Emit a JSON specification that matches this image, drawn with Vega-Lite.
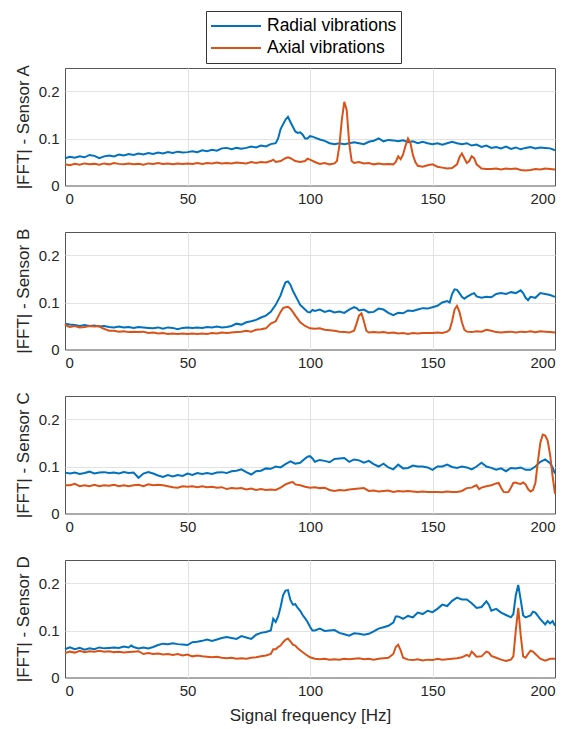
{
"$schema":"https://vega.github.io/schema/vega-lite/v6.json",
"background":"white",
"padding":{"left":13,"top":10,"right":5,"bottom":2},
"spacing":46,
"bounds":"flush",
"config":{
"font":"Liberation Sans",
"view":{"stroke":"#555555","strokeWidth":1},
"axis":{"labelFontSize":15,"titleFontSize":17,"labelColor":"#262626","titleColor":"#262626","titleFontWeight":"normal","gridColor":"#e2e2e2","domain":false,"ticks":false,"labelPadding":6},
"axisX":{"titlePadding":9},
"axisY":{"titlePadding":6},
"legend":{"orient":"none","legendX":141,"legendY":-57,"direction":"vertical","title":null,"symbolType":"stroke","symbolStrokeWidth":2,"symbolSize":2500,"clipHeight":22,"rowPadding":0,"labelFontSize":17.5,"labelColor":"#000","strokeColor":"#333","fillColor":"white","padding":4,"labelOffset":5}
},
"datasets":{
"A":[
{"t":"Radial","f":0,"v":0.058},{"t":"Radial","f":2,"v":0.061},{"t":"Radial","f":4,"v":0.059},{"t":"Radial","f":6,"v":0.062},{"t":"Radial","f":8,"v":0.06},{"t":"Radial","f":10,"v":0.065},{"t":"Radial","f":12,"v":0.063},{"t":"Radial","f":14,"v":0.058},{"t":"Radial","f":16,"v":0.062},{"t":"Radial","f":18,"v":0.064},{"t":"Radial","f":20,"v":0.062},{"t":"Radial","f":22,"v":0.066},{"t":"Radial","f":24,"v":0.064},{"t":"Radial","f":26,"v":0.067},{"t":"Radial","f":28,"v":0.065},{"t":"Radial","f":30,"v":0.068},{"t":"Radial","f":32,"v":0.066},{"t":"Radial","f":34,"v":0.069},{"t":"Radial","f":36,"v":0.067},{"t":"Radial","f":38,"v":0.07},{"t":"Radial","f":40,"v":0.068},{"t":"Radial","f":42,"v":0.071},{"t":"Radial","f":44,"v":0.069},{"t":"Radial","f":46,"v":0.072},{"t":"Radial","f":48,"v":0.07},{"t":"Radial","f":50,"v":0.071},{"t":"Radial","f":52,"v":0.073},{"t":"Radial","f":54,"v":0.071},{"t":"Radial","f":56,"v":0.075},{"t":"Radial","f":58,"v":0.073},{"t":"Radial","f":60,"v":0.076},{"t":"Radial","f":62,"v":0.074},{"t":"Radial","f":64,"v":0.079},{"t":"Radial","f":66,"v":0.08},{"t":"Radial","f":68,"v":0.077},{"t":"Radial","f":70,"v":0.08},{"t":"Radial","f":72,"v":0.078},{"t":"Radial","f":74,"v":0.08},{"t":"Radial","f":76,"v":0.083},{"t":"Radial","f":78,"v":0.081},{"t":"Radial","f":80,"v":0.085},{"t":"Radial","f":82,"v":0.083},{"t":"Radial","f":84,"v":0.088},{"t":"Radial","f":86,"v":0.09},{"t":"Radial","f":87,"v":0.1},{"t":"Radial","f":88,"v":0.12},{"t":"Radial","f":89,"v":0.13},{"t":"Radial","f":90,"v":0.14},{"t":"Radial","f":91,"v":0.146},{"t":"Radial","f":92,"v":0.135},{"t":"Radial","f":93,"v":0.125},{"t":"Radial","f":94,"v":0.115},{"t":"Radial","f":95,"v":0.112},{"t":"Radial","f":96,"v":0.113},{"t":"Radial","f":97,"v":0.108},{"t":"Radial","f":98,"v":0.1},{"t":"Radial","f":99,"v":0.1},{"t":"Radial","f":100,"v":0.105},{"t":"Radial","f":101,"v":0.104},{"t":"Radial","f":102,"v":0.102},{"t":"Radial","f":104,"v":0.098},{"t":"Radial","f":106,"v":0.095},{"t":"Radial","f":108,"v":0.09},{"t":"Radial","f":110,"v":0.088},{"t":"Radial","f":112,"v":0.09},{"t":"Radial","f":114,"v":0.088},{"t":"Radial","f":116,"v":0.09},{"t":"Radial","f":118,"v":0.092},{"t":"Radial","f":120,"v":0.09},{"t":"Radial","f":122,"v":0.088},{"t":"Radial","f":124,"v":0.093},{"t":"Radial","f":126,"v":0.095},{"t":"Radial","f":128,"v":0.1},{"t":"Radial","f":130,"v":0.094},{"t":"Radial","f":132,"v":0.097},{"t":"Radial","f":134,"v":0.096},{"t":"Radial","f":136,"v":0.094},{"t":"Radial","f":138,"v":0.096},{"t":"Radial","f":140,"v":0.092},{"t":"Radial","f":142,"v":0.094},{"t":"Radial","f":144,"v":0.09},{"t":"Radial","f":146,"v":0.093},{"t":"Radial","f":148,"v":0.09},{"t":"Radial","f":150,"v":0.088},{"t":"Radial","f":152,"v":0.09},{"t":"Radial","f":154,"v":0.087},{"t":"Radial","f":156,"v":0.09},{"t":"Radial","f":158,"v":0.093},{"t":"Radial","f":160,"v":0.09},{"t":"Radial","f":162,"v":0.088},{"t":"Radial","f":164,"v":0.09},{"t":"Radial","f":166,"v":0.085},{"t":"Radial","f":168,"v":0.087},{"t":"Radial","f":170,"v":0.082},{"t":"Radial","f":172,"v":0.085},{"t":"Radial","f":174,"v":0.08},{"t":"Radial","f":176,"v":0.082},{"t":"Radial","f":178,"v":0.079},{"t":"Radial","f":180,"v":0.083},{"t":"Radial","f":182,"v":0.078},{"t":"Radial","f":184,"v":0.081},{"t":"Radial","f":186,"v":0.077},{"t":"Radial","f":188,"v":0.08},{"t":"Radial","f":190,"v":0.082},{"t":"Radial","f":192,"v":0.079},{"t":"Radial","f":194,"v":0.081},{"t":"Radial","f":196,"v":0.08},{"t":"Radial","f":198,"v":0.079},{"t":"Radial","f":200,"v":0.075},
{"t":"Axial","f":0,"v":0.045},{"t":"Axial","f":2,"v":0.043},{"t":"Axial","f":4,"v":0.046},{"t":"Axial","f":6,"v":0.044},{"t":"Axial","f":8,"v":0.047},{"t":"Axial","f":10,"v":0.045},{"t":"Axial","f":12,"v":0.046},{"t":"Axial","f":14,"v":0.044},{"t":"Axial","f":16,"v":0.047},{"t":"Axial","f":18,"v":0.045},{"t":"Axial","f":20,"v":0.048},{"t":"Axial","f":22,"v":0.046},{"t":"Axial","f":24,"v":0.045},{"t":"Axial","f":26,"v":0.047},{"t":"Axial","f":28,"v":0.045},{"t":"Axial","f":30,"v":0.046},{"t":"Axial","f":32,"v":0.044},{"t":"Axial","f":34,"v":0.047},{"t":"Axial","f":36,"v":0.046},{"t":"Axial","f":38,"v":0.048},{"t":"Axial","f":40,"v":0.046},{"t":"Axial","f":42,"v":0.047},{"t":"Axial","f":44,"v":0.045},{"t":"Axial","f":46,"v":0.047},{"t":"Axial","f":48,"v":0.046},{"t":"Axial","f":50,"v":0.047},{"t":"Axial","f":52,"v":0.046},{"t":"Axial","f":54,"v":0.048},{"t":"Axial","f":56,"v":0.046},{"t":"Axial","f":58,"v":0.048},{"t":"Axial","f":60,"v":0.047},{"t":"Axial","f":62,"v":0.049},{"t":"Axial","f":64,"v":0.047},{"t":"Axial","f":66,"v":0.048},{"t":"Axial","f":68,"v":0.047},{"t":"Axial","f":70,"v":0.049},{"t":"Axial","f":72,"v":0.048},{"t":"Axial","f":74,"v":0.047},{"t":"Axial","f":76,"v":0.05},{"t":"Axial","f":78,"v":0.048},{"t":"Axial","f":80,"v":0.05},{"t":"Axial","f":82,"v":0.049},{"t":"Axial","f":84,"v":0.052},{"t":"Axial","f":85,"v":0.055},{"t":"Axial","f":86,"v":0.05},{"t":"Axial","f":88,"v":0.052},{"t":"Axial","f":90,"v":0.058},{"t":"Axial","f":91,"v":0.06},{"t":"Axial","f":92,"v":0.058},{"t":"Axial","f":94,"v":0.052},{"t":"Axial","f":96,"v":0.05},{"t":"Axial","f":98,"v":0.052},{"t":"Axial","f":99,"v":0.057},{"t":"Axial","f":100,"v":0.055},{"t":"Axial","f":102,"v":0.05},{"t":"Axial","f":104,"v":0.046},{"t":"Axial","f":106,"v":0.048},{"t":"Axial","f":108,"v":0.045},{"t":"Axial","f":110,"v":0.047},{"t":"Axial","f":111,"v":0.052},{"t":"Axial","f":112,"v":0.085},{"t":"Axial","f":113,"v":0.14},{"t":"Axial","f":114,"v":0.178},{"t":"Axial","f":115,"v":0.16},{"t":"Axial","f":116,"v":0.09},{"t":"Axial","f":117,"v":0.052},{"t":"Axial","f":118,"v":0.048},{"t":"Axial","f":120,"v":0.05},{"t":"Axial","f":122,"v":0.047},{"t":"Axial","f":124,"v":0.048},{"t":"Axial","f":126,"v":0.045},{"t":"Axial","f":128,"v":0.047},{"t":"Axial","f":130,"v":0.045},{"t":"Axial","f":132,"v":0.046},{"t":"Axial","f":134,"v":0.045},{"t":"Axial","f":135,"v":0.05},{"t":"Axial","f":136,"v":0.062},{"t":"Axial","f":137,"v":0.056},{"t":"Axial","f":138,"v":0.066},{"t":"Axial","f":139,"v":0.085},{"t":"Axial","f":140,"v":0.1},{"t":"Axial","f":141,"v":0.09},{"t":"Axial","f":142,"v":0.065},{"t":"Axial","f":143,"v":0.05},{"t":"Axial","f":144,"v":0.042},{"t":"Axial","f":146,"v":0.04},{"t":"Axial","f":148,"v":0.043},{"t":"Axial","f":150,"v":0.045},{"t":"Axial","f":152,"v":0.04},{"t":"Axial","f":154,"v":0.038},{"t":"Axial","f":156,"v":0.036},{"t":"Axial","f":158,"v":0.037},{"t":"Axial","f":160,"v":0.045},{"t":"Axial","f":161,"v":0.06},{"t":"Axial","f":162,"v":0.068},{"t":"Axial","f":163,"v":0.058},{"t":"Axial","f":164,"v":0.048},{"t":"Axial","f":165,"v":0.052},{"t":"Axial","f":166,"v":0.062},{"t":"Axial","f":167,"v":0.058},{"t":"Axial","f":168,"v":0.045},{"t":"Axial","f":170,"v":0.036},{"t":"Axial","f":172,"v":0.035},{"t":"Axial","f":174,"v":0.035},{"t":"Axial","f":176,"v":0.036},{"t":"Axial","f":178,"v":0.034},{"t":"Axial","f":180,"v":0.036},{"t":"Axial","f":182,"v":0.035},{"t":"Axial","f":184,"v":0.036},{"t":"Axial","f":186,"v":0.033},{"t":"Axial","f":188,"v":0.032},{"t":"Axial","f":190,"v":0.033},{"t":"Axial","f":192,"v":0.035},{"t":"Axial","f":194,"v":0.034},{"t":"Axial","f":196,"v":0.036},{"t":"Axial","f":198,"v":0.035},{"t":"Axial","f":200,"v":0.034}
],
"B":[
{"t":"Radial","f":0,"v":0.055},{"t":"Radial","f":2,"v":0.053},{"t":"Radial","f":4,"v":0.052},{"t":"Radial","f":6,"v":0.05},{"t":"Radial","f":8,"v":0.052},{"t":"Radial","f":10,"v":0.05},{"t":"Radial","f":12,"v":0.051},{"t":"Radial","f":14,"v":0.049},{"t":"Radial","f":16,"v":0.05},{"t":"Radial","f":18,"v":0.048},{"t":"Radial","f":20,"v":0.047},{"t":"Radial","f":22,"v":0.049},{"t":"Radial","f":24,"v":0.047},{"t":"Radial","f":26,"v":0.048},{"t":"Radial","f":28,"v":0.046},{"t":"Radial","f":30,"v":0.048},{"t":"Radial","f":32,"v":0.047},{"t":"Radial","f":34,"v":0.046},{"t":"Radial","f":36,"v":0.045},{"t":"Radial","f":38,"v":0.047},{"t":"Radial","f":40,"v":0.044},{"t":"Radial","f":42,"v":0.047},{"t":"Radial","f":44,"v":0.046},{"t":"Radial","f":46,"v":0.043},{"t":"Radial","f":48,"v":0.046},{"t":"Radial","f":50,"v":0.047},{"t":"Radial","f":52,"v":0.046},{"t":"Radial","f":54,"v":0.047},{"t":"Radial","f":56,"v":0.046},{"t":"Radial","f":58,"v":0.048},{"t":"Radial","f":60,"v":0.047},{"t":"Radial","f":62,"v":0.049},{"t":"Radial","f":64,"v":0.047},{"t":"Radial","f":66,"v":0.048},{"t":"Radial","f":68,"v":0.05},{"t":"Radial","f":70,"v":0.055},{"t":"Radial","f":72,"v":0.053},{"t":"Radial","f":74,"v":0.058},{"t":"Radial","f":76,"v":0.06},{"t":"Radial","f":78,"v":0.063},{"t":"Radial","f":80,"v":0.068},{"t":"Radial","f":82,"v":0.072},{"t":"Radial","f":84,"v":0.08},{"t":"Radial","f":86,"v":0.095},{"t":"Radial","f":88,"v":0.115},{"t":"Radial","f":89,"v":0.13},{"t":"Radial","f":90,"v":0.143},{"t":"Radial","f":91,"v":0.145},{"t":"Radial","f":92,"v":0.138},{"t":"Radial","f":93,"v":0.125},{"t":"Radial","f":94,"v":0.115},{"t":"Radial","f":95,"v":0.105},{"t":"Radial","f":96,"v":0.095},{"t":"Radial","f":98,"v":0.085},{"t":"Radial","f":99,"v":0.08},{"t":"Radial","f":100,"v":0.079},{"t":"Radial","f":101,"v":0.084},{"t":"Radial","f":102,"v":0.082},{"t":"Radial","f":104,"v":0.085},{"t":"Radial","f":106,"v":0.08},{"t":"Radial","f":108,"v":0.083},{"t":"Radial","f":110,"v":0.079},{"t":"Radial","f":112,"v":0.081},{"t":"Radial","f":114,"v":0.078},{"t":"Radial","f":116,"v":0.085},{"t":"Radial","f":118,"v":0.09},{"t":"Radial","f":119,"v":0.088},{"t":"Radial","f":120,"v":0.083},{"t":"Radial","f":122,"v":0.085},{"t":"Radial","f":124,"v":0.079},{"t":"Radial","f":126,"v":0.08},{"t":"Radial","f":128,"v":0.087},{"t":"Radial","f":130,"v":0.085},{"t":"Radial","f":132,"v":0.078},{"t":"Radial","f":134,"v":0.073},{"t":"Radial","f":136,"v":0.078},{"t":"Radial","f":138,"v":0.077},{"t":"Radial","f":140,"v":0.083},{"t":"Radial","f":142,"v":0.082},{"t":"Radial","f":144,"v":0.085},{"t":"Radial","f":146,"v":0.088},{"t":"Radial","f":148,"v":0.087},{"t":"Radial","f":150,"v":0.09},{"t":"Radial","f":152,"v":0.093},{"t":"Radial","f":154,"v":0.1},{"t":"Radial","f":156,"v":0.103},{"t":"Radial","f":157,"v":0.1},{"t":"Radial","f":158,"v":0.118},{"t":"Radial","f":159,"v":0.128},{"t":"Radial","f":160,"v":0.127},{"t":"Radial","f":161,"v":0.12},{"t":"Radial","f":162,"v":0.112},{"t":"Radial","f":163,"v":0.108},{"t":"Radial","f":164,"v":0.112},{"t":"Radial","f":166,"v":0.118},{"t":"Radial","f":167,"v":0.12},{"t":"Radial","f":168,"v":0.113},{"t":"Radial","f":170,"v":0.11},{"t":"Radial","f":172,"v":0.112},{"t":"Radial","f":174,"v":0.111},{"t":"Radial","f":176,"v":0.118},{"t":"Radial","f":178,"v":0.12},{"t":"Radial","f":180,"v":0.118},{"t":"Radial","f":182,"v":0.122},{"t":"Radial","f":184,"v":0.12},{"t":"Radial","f":186,"v":0.126},{"t":"Radial","f":187,"v":0.12},{"t":"Radial","f":188,"v":0.11},{"t":"Radial","f":189,"v":0.105},{"t":"Radial","f":190,"v":0.112},{"t":"Radial","f":192,"v":0.11},{"t":"Radial","f":194,"v":0.12},{"t":"Radial","f":196,"v":0.118},{"t":"Radial","f":198,"v":0.116},{"t":"Radial","f":200,"v":0.112},
{"t":"Axial","f":0,"v":0.054},{"t":"Axial","f":1,"v":0.05},{"t":"Axial","f":2,"v":0.048},{"t":"Axial","f":4,"v":0.05},{"t":"Axial","f":6,"v":0.047},{"t":"Axial","f":8,"v":0.048},{"t":"Axial","f":10,"v":0.05},{"t":"Axial","f":12,"v":0.049},{"t":"Axial","f":14,"v":0.05},{"t":"Axial","f":15,"v":0.046},{"t":"Axial","f":16,"v":0.044},{"t":"Axial","f":18,"v":0.04},{"t":"Axial","f":20,"v":0.04},{"t":"Axial","f":22,"v":0.038},{"t":"Axial","f":24,"v":0.039},{"t":"Axial","f":26,"v":0.037},{"t":"Axial","f":28,"v":0.038},{"t":"Axial","f":30,"v":0.037},{"t":"Axial","f":32,"v":0.038},{"t":"Axial","f":34,"v":0.035},{"t":"Axial","f":36,"v":0.036},{"t":"Axial","f":38,"v":0.034},{"t":"Axial","f":40,"v":0.035},{"t":"Axial","f":42,"v":0.033},{"t":"Axial","f":44,"v":0.034},{"t":"Axial","f":46,"v":0.033},{"t":"Axial","f":48,"v":0.034},{"t":"Axial","f":50,"v":0.033},{"t":"Axial","f":52,"v":0.034},{"t":"Axial","f":54,"v":0.033},{"t":"Axial","f":56,"v":0.034},{"t":"Axial","f":58,"v":0.033},{"t":"Axial","f":60,"v":0.035},{"t":"Axial","f":62,"v":0.034},{"t":"Axial","f":64,"v":0.036},{"t":"Axial","f":66,"v":0.035},{"t":"Axial","f":68,"v":0.036},{"t":"Axial","f":70,"v":0.037},{"t":"Axial","f":72,"v":0.038},{"t":"Axial","f":74,"v":0.04},{"t":"Axial","f":76,"v":0.038},{"t":"Axial","f":78,"v":0.042},{"t":"Axial","f":80,"v":0.043},{"t":"Axial","f":82,"v":0.045},{"t":"Axial","f":84,"v":0.055},{"t":"Axial","f":86,"v":0.06},{"t":"Axial","f":87,"v":0.07},{"t":"Axial","f":88,"v":0.08},{"t":"Axial","f":89,"v":0.088},{"t":"Axial","f":90,"v":0.09},{"t":"Axial","f":91,"v":0.091},{"t":"Axial","f":92,"v":0.087},{"t":"Axial","f":93,"v":0.08},{"t":"Axial","f":94,"v":0.072},{"t":"Axial","f":95,"v":0.065},{"t":"Axial","f":96,"v":0.058},{"t":"Axial","f":98,"v":0.05},{"t":"Axial","f":100,"v":0.045},{"t":"Axial","f":102,"v":0.044},{"t":"Axial","f":104,"v":0.045},{"t":"Axial","f":106,"v":0.042},{"t":"Axial","f":108,"v":0.041},{"t":"Axial","f":110,"v":0.04},{"t":"Axial","f":112,"v":0.038},{"t":"Axial","f":114,"v":0.037},{"t":"Axial","f":116,"v":0.036},{"t":"Axial","f":118,"v":0.04},{"t":"Axial","f":119,"v":0.055},{"t":"Axial","f":120,"v":0.072},{"t":"Axial","f":121,"v":0.077},{"t":"Axial","f":122,"v":0.06},{"t":"Axial","f":123,"v":0.04},{"t":"Axial","f":124,"v":0.036},{"t":"Axial","f":126,"v":0.037},{"t":"Axial","f":128,"v":0.036},{"t":"Axial","f":130,"v":0.037},{"t":"Axial","f":132,"v":0.035},{"t":"Axial","f":134,"v":0.036},{"t":"Axial","f":136,"v":0.034},{"t":"Axial","f":138,"v":0.035},{"t":"Axial","f":140,"v":0.033},{"t":"Axial","f":142,"v":0.035},{"t":"Axial","f":144,"v":0.034},{"t":"Axial","f":146,"v":0.035},{"t":"Axial","f":148,"v":0.035},{"t":"Axial","f":150,"v":0.035},{"t":"Axial","f":152,"v":0.036},{"t":"Axial","f":154,"v":0.035},{"t":"Axial","f":156,"v":0.038},{"t":"Axial","f":157,"v":0.042},{"t":"Axial","f":158,"v":0.06},{"t":"Axial","f":159,"v":0.085},{"t":"Axial","f":160,"v":0.093},{"t":"Axial","f":161,"v":0.08},{"t":"Axial","f":162,"v":0.058},{"t":"Axial","f":163,"v":0.042},{"t":"Axial","f":164,"v":0.038},{"t":"Axial","f":166,"v":0.037},{"t":"Axial","f":168,"v":0.039},{"t":"Axial","f":170,"v":0.038},{"t":"Axial","f":172,"v":0.042},{"t":"Axial","f":174,"v":0.04},{"t":"Axial","f":176,"v":0.037},{"t":"Axial","f":178,"v":0.036},{"t":"Axial","f":180,"v":0.037},{"t":"Axial","f":182,"v":0.038},{"t":"Axial","f":184,"v":0.036},{"t":"Axial","f":186,"v":0.038},{"t":"Axial","f":188,"v":0.037},{"t":"Axial","f":190,"v":0.039},{"t":"Axial","f":192,"v":0.037},{"t":"Axial","f":194,"v":0.039},{"t":"Axial","f":196,"v":0.038},{"t":"Axial","f":198,"v":0.037},{"t":"Axial","f":200,"v":0.036}
],
"C":[
{"t":"Radial","f":0,"v":0.087},{"t":"Radial","f":2,"v":0.085},{"t":"Radial","f":4,"v":0.087},{"t":"Radial","f":6,"v":0.084},{"t":"Radial","f":8,"v":0.086},{"t":"Radial","f":10,"v":0.089},{"t":"Radial","f":12,"v":0.085},{"t":"Radial","f":14,"v":0.087},{"t":"Radial","f":16,"v":0.088},{"t":"Radial","f":18,"v":0.086},{"t":"Radial","f":20,"v":0.087},{"t":"Radial","f":22,"v":0.085},{"t":"Radial","f":24,"v":0.088},{"t":"Radial","f":26,"v":0.086},{"t":"Radial","f":28,"v":0.087},{"t":"Radial","f":30,"v":0.076},{"t":"Radial","f":32,"v":0.085},{"t":"Radial","f":34,"v":0.088},{"t":"Radial","f":36,"v":0.085},{"t":"Radial","f":38,"v":0.081},{"t":"Radial","f":40,"v":0.078},{"t":"Radial","f":42,"v":0.082},{"t":"Radial","f":44,"v":0.079},{"t":"Radial","f":46,"v":0.082},{"t":"Radial","f":48,"v":0.08},{"t":"Radial","f":50,"v":0.085},{"t":"Radial","f":52,"v":0.082},{"t":"Radial","f":54,"v":0.086},{"t":"Radial","f":56,"v":0.084},{"t":"Radial","f":58,"v":0.086},{"t":"Radial","f":60,"v":0.084},{"t":"Radial","f":62,"v":0.087},{"t":"Radial","f":64,"v":0.088},{"t":"Radial","f":66,"v":0.086},{"t":"Radial","f":68,"v":0.09},{"t":"Radial","f":70,"v":0.091},{"t":"Radial","f":72,"v":0.094},{"t":"Radial","f":74,"v":0.088},{"t":"Radial","f":76,"v":0.083},{"t":"Radial","f":78,"v":0.09},{"t":"Radial","f":80,"v":0.091},{"t":"Radial","f":82,"v":0.096},{"t":"Radial","f":84,"v":0.095},{"t":"Radial","f":86,"v":0.1},{"t":"Radial","f":88,"v":0.098},{"t":"Radial","f":90,"v":0.105},{"t":"Radial","f":92,"v":0.111},{"t":"Radial","f":94,"v":0.106},{"t":"Radial","f":96,"v":0.108},{"t":"Radial","f":98,"v":0.117},{"t":"Radial","f":99,"v":0.121},{"t":"Radial","f":100,"v":0.122},{"t":"Radial","f":101,"v":0.117},{"t":"Radial","f":102,"v":0.11},{"t":"Radial","f":104,"v":0.114},{"t":"Radial","f":106,"v":0.112},{"t":"Radial","f":108,"v":0.109},{"t":"Radial","f":110,"v":0.116},{"t":"Radial","f":112,"v":0.117},{"t":"Radial","f":114,"v":0.118},{"t":"Radial","f":116,"v":0.11},{"t":"Radial","f":118,"v":0.115},{"t":"Radial","f":120,"v":0.113},{"t":"Radial","f":122,"v":0.108},{"t":"Radial","f":124,"v":0.112},{"t":"Radial","f":126,"v":0.105},{"t":"Radial","f":128,"v":0.1},{"t":"Radial","f":130,"v":0.106},{"t":"Radial","f":132,"v":0.098},{"t":"Radial","f":134,"v":0.094},{"t":"Radial","f":136,"v":0.104},{"t":"Radial","f":138,"v":0.096},{"t":"Radial","f":140,"v":0.097},{"t":"Radial","f":142,"v":0.102},{"t":"Radial","f":144,"v":0.1},{"t":"Radial","f":146,"v":0.1},{"t":"Radial","f":148,"v":0.098},{"t":"Radial","f":150,"v":0.093},{"t":"Radial","f":152,"v":0.1},{"t":"Radial","f":154,"v":0.1},{"t":"Radial","f":156,"v":0.104},{"t":"Radial","f":158,"v":0.099},{"t":"Radial","f":160,"v":0.097},{"t":"Radial","f":162,"v":0.1},{"t":"Radial","f":164,"v":0.098},{"t":"Radial","f":166,"v":0.094},{"t":"Radial","f":168,"v":0.1},{"t":"Radial","f":170,"v":0.108},{"t":"Radial","f":172,"v":0.1},{"t":"Radial","f":174,"v":0.097},{"t":"Radial","f":176,"v":0.093},{"t":"Radial","f":178,"v":0.096},{"t":"Radial","f":180,"v":0.09},{"t":"Radial","f":182,"v":0.097},{"t":"Radial","f":184,"v":0.096},{"t":"Radial","f":186,"v":0.098},{"t":"Radial","f":188,"v":0.093},{"t":"Radial","f":190,"v":0.093},{"t":"Radial","f":192,"v":0.1},{"t":"Radial","f":194,"v":0.11},{"t":"Radial","f":196,"v":0.115},{"t":"Radial","f":198,"v":0.107},{"t":"Radial","f":199,"v":0.098},{"t":"Radial","f":200,"v":0.085},
{"t":"Axial","f":0,"v":0.06},{"t":"Axial","f":2,"v":0.06},{"t":"Axial","f":4,"v":0.063},{"t":"Axial","f":6,"v":0.058},{"t":"Axial","f":8,"v":0.06},{"t":"Axial","f":10,"v":0.058},{"t":"Axial","f":12,"v":0.061},{"t":"Axial","f":14,"v":0.058},{"t":"Axial","f":16,"v":0.06},{"t":"Axial","f":18,"v":0.059},{"t":"Axial","f":20,"v":0.061},{"t":"Axial","f":22,"v":0.058},{"t":"Axial","f":24,"v":0.06},{"t":"Axial","f":26,"v":0.058},{"t":"Axial","f":28,"v":0.06},{"t":"Axial","f":30,"v":0.061},{"t":"Axial","f":32,"v":0.058},{"t":"Axial","f":34,"v":0.062},{"t":"Axial","f":36,"v":0.06},{"t":"Axial","f":38,"v":0.061},{"t":"Axial","f":40,"v":0.06},{"t":"Axial","f":42,"v":0.058},{"t":"Axial","f":44,"v":0.056},{"t":"Axial","f":46,"v":0.055},{"t":"Axial","f":48,"v":0.058},{"t":"Axial","f":50,"v":0.057},{"t":"Axial","f":52,"v":0.058},{"t":"Axial","f":54,"v":0.056},{"t":"Axial","f":56,"v":0.058},{"t":"Axial","f":58,"v":0.056},{"t":"Axial","f":60,"v":0.057},{"t":"Axial","f":62,"v":0.055},{"t":"Axial","f":64,"v":0.056},{"t":"Axial","f":66,"v":0.052},{"t":"Axial","f":68,"v":0.054},{"t":"Axial","f":70,"v":0.053},{"t":"Axial","f":72,"v":0.054},{"t":"Axial","f":74,"v":0.051},{"t":"Axial","f":76,"v":0.053},{"t":"Axial","f":78,"v":0.05},{"t":"Axial","f":80,"v":0.052},{"t":"Axial","f":82,"v":0.05},{"t":"Axial","f":84,"v":0.051},{"t":"Axial","f":86,"v":0.05},{"t":"Axial","f":88,"v":0.055},{"t":"Axial","f":90,"v":0.062},{"t":"Axial","f":92,"v":0.066},{"t":"Axial","f":93,"v":0.067},{"t":"Axial","f":94,"v":0.062},{"t":"Axial","f":96,"v":0.06},{"t":"Axial","f":98,"v":0.057},{"t":"Axial","f":100,"v":0.055},{"t":"Axial","f":102,"v":0.056},{"t":"Axial","f":104,"v":0.054},{"t":"Axial","f":106,"v":0.055},{"t":"Axial","f":108,"v":0.05},{"t":"Axial","f":110,"v":0.048},{"t":"Axial","f":112,"v":0.05},{"t":"Axial","f":114,"v":0.049},{"t":"Axial","f":116,"v":0.051},{"t":"Axial","f":118,"v":0.052},{"t":"Axial","f":120,"v":0.053},{"t":"Axial","f":122,"v":0.054},{"t":"Axial","f":124,"v":0.048},{"t":"Axial","f":126,"v":0.049},{"t":"Axial","f":128,"v":0.047},{"t":"Axial","f":130,"v":0.048},{"t":"Axial","f":132,"v":0.049},{"t":"Axial","f":134,"v":0.046},{"t":"Axial","f":136,"v":0.048},{"t":"Axial","f":138,"v":0.047},{"t":"Axial","f":140,"v":0.048},{"t":"Axial","f":142,"v":0.047},{"t":"Axial","f":144,"v":0.046},{"t":"Axial","f":146,"v":0.047},{"t":"Axial","f":148,"v":0.046},{"t":"Axial","f":150,"v":0.046},{"t":"Axial","f":152,"v":0.046},{"t":"Axial","f":154,"v":0.045},{"t":"Axial","f":156,"v":0.047},{"t":"Axial","f":158,"v":0.046},{"t":"Axial","f":160,"v":0.046},{"t":"Axial","f":162,"v":0.048},{"t":"Axial","f":164,"v":0.054},{"t":"Axial","f":166,"v":0.055},{"t":"Axial","f":167,"v":0.058},{"t":"Axial","f":168,"v":0.06},{"t":"Axial","f":169,"v":0.052},{"t":"Axial","f":170,"v":0.055},{"t":"Axial","f":172,"v":0.058},{"t":"Axial","f":174,"v":0.06},{"t":"Axial","f":176,"v":0.064},{"t":"Axial","f":177,"v":0.065},{"t":"Axial","f":178,"v":0.055},{"t":"Axial","f":179,"v":0.046},{"t":"Axial","f":180,"v":0.045},{"t":"Axial","f":181,"v":0.046},{"t":"Axial","f":182,"v":0.055},{"t":"Axial","f":183,"v":0.065},{"t":"Axial","f":184,"v":0.066},{"t":"Axial","f":185,"v":0.064},{"t":"Axial","f":186,"v":0.063},{"t":"Axial","f":187,"v":0.066},{"t":"Axial","f":188,"v":0.062},{"t":"Axial","f":189,"v":0.052},{"t":"Axial","f":190,"v":0.047},{"t":"Axial","f":191,"v":0.05},{"t":"Axial","f":192,"v":0.065},{"t":"Axial","f":193,"v":0.11},{"t":"Axial","f":194,"v":0.15},{"t":"Axial","f":195,"v":0.168},{"t":"Axial","f":196,"v":0.166},{"t":"Axial","f":197,"v":0.155},{"t":"Axial","f":198,"v":0.125},{"t":"Axial","f":199,"v":0.08},{"t":"Axial","f":200,"v":0.042}
],
"D":[
{"t":"Radial","f":0,"v":0.06},{"t":"Radial","f":2,"v":0.064},{"t":"Radial","f":4,"v":0.06},{"t":"Radial","f":6,"v":0.063},{"t":"Radial","f":8,"v":0.059},{"t":"Radial","f":10,"v":0.062},{"t":"Radial","f":12,"v":0.06},{"t":"Radial","f":14,"v":0.064},{"t":"Radial","f":16,"v":0.062},{"t":"Radial","f":18,"v":0.063},{"t":"Radial","f":20,"v":0.064},{"t":"Radial","f":22,"v":0.063},{"t":"Radial","f":24,"v":0.066},{"t":"Radial","f":26,"v":0.064},{"t":"Radial","f":27,"v":0.068},{"t":"Radial","f":28,"v":0.065},{"t":"Radial","f":30,"v":0.062},{"t":"Radial","f":32,"v":0.064},{"t":"Radial","f":34,"v":0.062},{"t":"Radial","f":36,"v":0.065},{"t":"Radial","f":38,"v":0.069},{"t":"Radial","f":40,"v":0.072},{"t":"Radial","f":42,"v":0.071},{"t":"Radial","f":44,"v":0.073},{"t":"Radial","f":46,"v":0.071},{"t":"Radial","f":48,"v":0.07},{"t":"Radial","f":50,"v":0.069},{"t":"Radial","f":52,"v":0.075},{"t":"Radial","f":54,"v":0.076},{"t":"Radial","f":56,"v":0.078},{"t":"Radial","f":58,"v":0.081},{"t":"Radial","f":60,"v":0.078},{"t":"Radial","f":62,"v":0.081},{"t":"Radial","f":64,"v":0.084},{"t":"Radial","f":66,"v":0.086},{"t":"Radial","f":68,"v":0.084},{"t":"Radial","f":70,"v":0.082},{"t":"Radial","f":72,"v":0.088},{"t":"Radial","f":74,"v":0.085},{"t":"Radial","f":76,"v":0.082},{"t":"Radial","f":78,"v":0.091},{"t":"Radial","f":80,"v":0.095},{"t":"Radial","f":82,"v":0.097},{"t":"Radial","f":84,"v":0.1},{"t":"Radial","f":85,"v":0.125},{"t":"Radial","f":86,"v":0.118},{"t":"Radial","f":87,"v":0.13},{"t":"Radial","f":88,"v":0.15},{"t":"Radial","f":89,"v":0.175},{"t":"Radial","f":90,"v":0.185},{"t":"Radial","f":91,"v":0.186},{"t":"Radial","f":92,"v":0.165},{"t":"Radial","f":93,"v":0.155},{"t":"Radial","f":94,"v":0.156},{"t":"Radial","f":95,"v":0.148},{"t":"Radial","f":96,"v":0.142},{"t":"Radial","f":97,"v":0.133},{"t":"Radial","f":98,"v":0.126},{"t":"Radial","f":99,"v":0.118},{"t":"Radial","f":100,"v":0.108},{"t":"Radial","f":101,"v":0.1},{"t":"Radial","f":102,"v":0.1},{"t":"Radial","f":104,"v":0.104},{"t":"Radial","f":106,"v":0.099},{"t":"Radial","f":108,"v":0.1},{"t":"Radial","f":110,"v":0.101},{"t":"Radial","f":112,"v":0.095},{"t":"Radial","f":114,"v":0.092},{"t":"Radial","f":116,"v":0.089},{"t":"Radial","f":118,"v":0.094},{"t":"Radial","f":120,"v":0.093},{"t":"Radial","f":122,"v":0.091},{"t":"Radial","f":124,"v":0.093},{"t":"Radial","f":126,"v":0.098},{"t":"Radial","f":128,"v":0.104},{"t":"Radial","f":130,"v":0.107},{"t":"Radial","f":132,"v":0.11},{"t":"Radial","f":134,"v":0.117},{"t":"Radial","f":135,"v":0.13},{"t":"Radial","f":136,"v":0.13},{"t":"Radial","f":138,"v":0.125},{"t":"Radial","f":140,"v":0.131},{"t":"Radial","f":142,"v":0.128},{"t":"Radial","f":144,"v":0.138},{"t":"Radial","f":146,"v":0.135},{"t":"Radial","f":148,"v":0.142},{"t":"Radial","f":150,"v":0.139},{"t":"Radial","f":152,"v":0.146},{"t":"Radial","f":154,"v":0.155},{"t":"Radial","f":156,"v":0.152},{"t":"Radial","f":158,"v":0.163},{"t":"Radial","f":160,"v":0.17},{"t":"Radial","f":162,"v":0.166},{"t":"Radial","f":164,"v":0.166},{"t":"Radial","f":166,"v":0.158},{"t":"Radial","f":168,"v":0.148},{"t":"Radial","f":170,"v":0.15},{"t":"Radial","f":172,"v":0.162},{"t":"Radial","f":173,"v":0.155},{"t":"Radial","f":174,"v":0.142},{"t":"Radial","f":176,"v":0.146},{"t":"Radial","f":178,"v":0.138},{"t":"Radial","f":180,"v":0.133},{"t":"Radial","f":182,"v":0.128},{"t":"Radial","f":183,"v":0.135},{"t":"Radial","f":184,"v":0.175},{"t":"Radial","f":185,"v":0.197},{"t":"Radial","f":186,"v":0.165},{"t":"Radial","f":187,"v":0.132},{"t":"Radial","f":188,"v":0.128},{"t":"Radial","f":190,"v":0.132},{"t":"Radial","f":191,"v":0.14},{"t":"Radial","f":192,"v":0.138},{"t":"Radial","f":194,"v":0.124},{"t":"Radial","f":196,"v":0.113},{"t":"Radial","f":197,"v":0.12},{"t":"Radial","f":198,"v":0.115},{"t":"Radial","f":199,"v":0.12},{"t":"Radial","f":200,"v":0.11},
{"t":"Axial","f":0,"v":0.052},{"t":"Axial","f":2,"v":0.055},{"t":"Axial","f":4,"v":0.053},{"t":"Axial","f":6,"v":0.057},{"t":"Axial","f":8,"v":0.054},{"t":"Axial","f":10,"v":0.056},{"t":"Axial","f":12,"v":0.055},{"t":"Axial","f":14,"v":0.057},{"t":"Axial","f":16,"v":0.055},{"t":"Axial","f":18,"v":0.056},{"t":"Axial","f":20,"v":0.054},{"t":"Axial","f":22,"v":0.055},{"t":"Axial","f":24,"v":0.053},{"t":"Axial","f":26,"v":0.054},{"t":"Axial","f":28,"v":0.055},{"t":"Axial","f":30,"v":0.056},{"t":"Axial","f":32,"v":0.05},{"t":"Axial","f":34,"v":0.052},{"t":"Axial","f":36,"v":0.05},{"t":"Axial","f":38,"v":0.051},{"t":"Axial","f":40,"v":0.049},{"t":"Axial","f":42,"v":0.05},{"t":"Axial","f":44,"v":0.048},{"t":"Axial","f":46,"v":0.05},{"t":"Axial","f":48,"v":0.047},{"t":"Axial","f":50,"v":0.049},{"t":"Axial","f":52,"v":0.045},{"t":"Axial","f":54,"v":0.047},{"t":"Axial","f":56,"v":0.045},{"t":"Axial","f":58,"v":0.044},{"t":"Axial","f":60,"v":0.043},{"t":"Axial","f":62,"v":0.044},{"t":"Axial","f":64,"v":0.042},{"t":"Axial","f":66,"v":0.041},{"t":"Axial","f":68,"v":0.042},{"t":"Axial","f":70,"v":0.04},{"t":"Axial","f":72,"v":0.041},{"t":"Axial","f":74,"v":0.04},{"t":"Axial","f":76,"v":0.042},{"t":"Axial","f":78,"v":0.043},{"t":"Axial","f":80,"v":0.045},{"t":"Axial","f":82,"v":0.047},{"t":"Axial","f":84,"v":0.05},{"t":"Axial","f":85,"v":0.06},{"t":"Axial","f":86,"v":0.06},{"t":"Axial","f":87,"v":0.065},{"t":"Axial","f":88,"v":0.068},{"t":"Axial","f":89,"v":0.075},{"t":"Axial","f":90,"v":0.08},{"t":"Axial","f":91,"v":0.083},{"t":"Axial","f":92,"v":0.077},{"t":"Axial","f":93,"v":0.07},{"t":"Axial","f":94,"v":0.068},{"t":"Axial","f":95,"v":0.062},{"t":"Axial","f":96,"v":0.058},{"t":"Axial","f":98,"v":0.05},{"t":"Axial","f":100,"v":0.043},{"t":"Axial","f":102,"v":0.04},{"t":"Axial","f":104,"v":0.039},{"t":"Axial","f":106,"v":0.04},{"t":"Axial","f":108,"v":0.038},{"t":"Axial","f":110,"v":0.039},{"t":"Axial","f":112,"v":0.038},{"t":"Axial","f":114,"v":0.04},{"t":"Axial","f":116,"v":0.039},{"t":"Axial","f":118,"v":0.04},{"t":"Axial","f":120,"v":0.041},{"t":"Axial","f":122,"v":0.039},{"t":"Axial","f":124,"v":0.04},{"t":"Axial","f":126,"v":0.038},{"t":"Axial","f":128,"v":0.04},{"t":"Axial","f":130,"v":0.041},{"t":"Axial","f":132,"v":0.042},{"t":"Axial","f":134,"v":0.05},{"t":"Axial","f":135,"v":0.065},{"t":"Axial","f":136,"v":0.07},{"t":"Axial","f":137,"v":0.058},{"t":"Axial","f":138,"v":0.042},{"t":"Axial","f":140,"v":0.038},{"t":"Axial","f":142,"v":0.037},{"t":"Axial","f":144,"v":0.039},{"t":"Axial","f":146,"v":0.036},{"t":"Axial","f":148,"v":0.038},{"t":"Axial","f":150,"v":0.037},{"t":"Axial","f":152,"v":0.04},{"t":"Axial","f":154,"v":0.038},{"t":"Axial","f":156,"v":0.039},{"t":"Axial","f":158,"v":0.04},{"t":"Axial","f":160,"v":0.041},{"t":"Axial","f":162,"v":0.043},{"t":"Axial","f":164,"v":0.048},{"t":"Axial","f":165,"v":0.045},{"t":"Axial","f":166,"v":0.055},{"t":"Axial","f":167,"v":0.05},{"t":"Axial","f":168,"v":0.044},{"t":"Axial","f":170,"v":0.045},{"t":"Axial","f":172,"v":0.055},{"t":"Axial","f":173,"v":0.053},{"t":"Axial","f":174,"v":0.046},{"t":"Axial","f":176,"v":0.042},{"t":"Axial","f":178,"v":0.038},{"t":"Axial","f":180,"v":0.035},{"t":"Axial","f":182,"v":0.038},{"t":"Axial","f":183,"v":0.045},{"t":"Axial","f":184,"v":0.1},{"t":"Axial","f":185,"v":0.148},{"t":"Axial","f":186,"v":0.09},{"t":"Axial","f":187,"v":0.045},{"t":"Axial","f":188,"v":0.042},{"t":"Axial","f":189,"v":0.05},{"t":"Axial","f":190,"v":0.057},{"t":"Axial","f":191,"v":0.055},{"t":"Axial","f":192,"v":0.05},{"t":"Axial","f":194,"v":0.04},{"t":"Axial","f":196,"v":0.036},{"t":"Axial","f":198,"v":0.04},{"t":"Axial","f":200,"v":0.04}
]
},
"vconcat":[
{"width":490,"height":117.5,"data":{"name":"A"},"mark":{"type":"line","strokeWidth":2},
"encoding":{
"x":{"field":"f","type":"quantitative","scale":{"domain":[0,200],"nice":false},"axis":{"values":[0,50,100,150,200],"title":null,"gridOpacity":{"condition":{"test":"datum.value == 0 || datum.value == 200","value":0},"value":1}}},
"y":{"field":"v","type":"quantitative","scale":{"domain":[0,0.25],"nice":false},"axis":{"values":[0,0.1,0.2],"format":"~g","title":"|FFT| - Sensor A","gridOpacity":{"condition":{"test":"datum.value == 0","value":0},"value":1}}},
"color":{"field":"t","type":"nominal","scale":{"domain":["Radial","Axial"],"range":["#0072BD","#D95319"]},"legend":{"labelExpr":"datum.label + ' vibrations'"}}}},
{"width":490,"height":117.5,"data":{"name":"B"},"mark":{"type":"line","strokeWidth":2},
"encoding":{
"x":{"field":"f","type":"quantitative","scale":{"domain":[0,200],"nice":false},"axis":{"values":[0,50,100,150,200],"title":null,"gridOpacity":{"condition":{"test":"datum.value == 0 || datum.value == 200","value":0},"value":1}}},
"y":{"field":"v","type":"quantitative","scale":{"domain":[0,0.25],"nice":false},"axis":{"values":[0,0.1,0.2],"format":"~g","title":"|FFT| - Sensor B","gridOpacity":{"condition":{"test":"datum.value == 0","value":0},"value":1}}},
"color":{"field":"t","type":"nominal","scale":{"domain":["Radial","Axial"],"range":["#0072BD","#D95319"]}}}},
{"width":490,"height":117.5,"data":{"name":"C"},"mark":{"type":"line","strokeWidth":2},
"encoding":{
"x":{"field":"f","type":"quantitative","scale":{"domain":[0,200],"nice":false},"axis":{"values":[0,50,100,150,200],"title":null,"gridOpacity":{"condition":{"test":"datum.value == 0 || datum.value == 200","value":0},"value":1}}},
"y":{"field":"v","type":"quantitative","scale":{"domain":[0,0.25],"nice":false},"axis":{"values":[0,0.1,0.2],"format":"~g","title":"|FFT| - Sensor C","gridOpacity":{"condition":{"test":"datum.value == 0","value":0},"value":1}}},
"color":{"field":"t","type":"nominal","scale":{"domain":["Radial","Axial"],"range":["#0072BD","#D95319"]}}}},
{"width":490,"height":117.5,"data":{"name":"D"},"mark":{"type":"line","strokeWidth":2},
"encoding":{
"x":{"field":"f","type":"quantitative","scale":{"domain":[0,200],"nice":false},"axis":{"values":[0,50,100,150,200],"title":"Signal frequency [Hz]","gridOpacity":{"condition":{"test":"datum.value == 0 || datum.value == 200","value":0},"value":1}}},
"y":{"field":"v","type":"quantitative","scale":{"domain":[0,0.25],"nice":false},"axis":{"values":[0,0.1,0.2],"format":"~g","title":"|FFT| - Sensor D","gridOpacity":{"condition":{"test":"datum.value == 0","value":0},"value":1}}},
"color":{"field":"t","type":"nominal","scale":{"domain":["Radial","Axial"],"range":["#0072BD","#D95319"]}}}}
]
}
